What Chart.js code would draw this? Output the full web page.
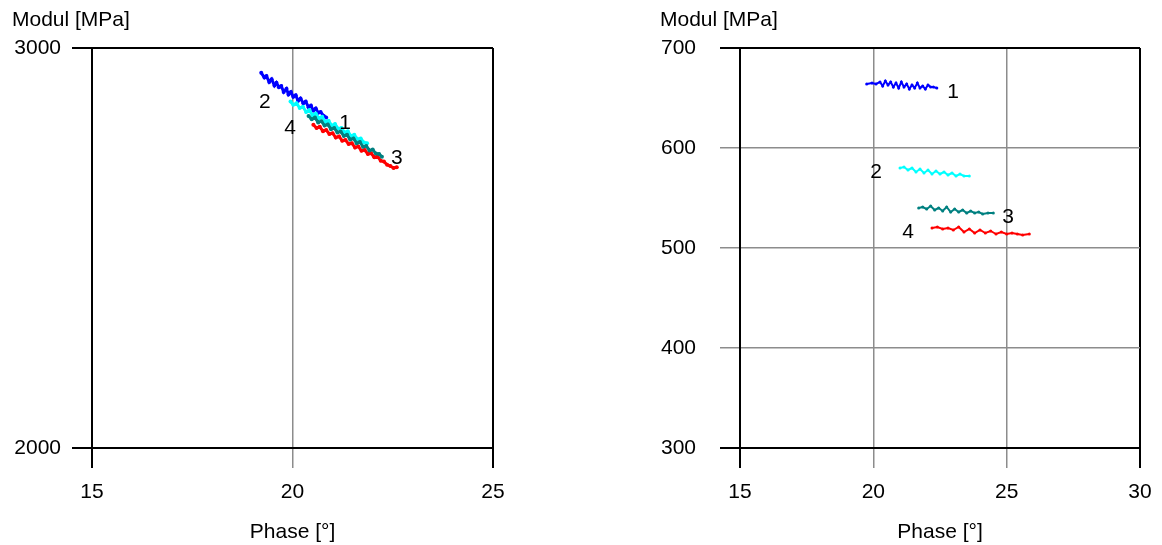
<!DOCTYPE html>
<html>
<head>
<meta charset="utf-8">
<script src="https://cdn.jsdelivr.net/npm/chart.js@4/dist/chart.umd.min.js"></script>
<style>
  body { margin: 0; background: #fff; }
  #wrap { position: relative; width: 1162px; height: 545px; }
  #left { position: absolute; left: 0; top: 0; }
  #right { position: absolute; left: 580px; top: 0; }
</style>
</head>
<body>
<div id="wrap">
  <canvas id="left" width="580" height="545"></canvas>
  <canvas id="right" width="582" height="545"></canvas>
</div>
<script>
// ---- left plot (Modul 2000-3000) ----
let phaseL1 = [19.22,19.30,19.35,19.42,19.48,19.55,19.60,19.66,19.72,19.78,19.85,19.90,19.96,20.02,20.08,20.14,20.20,20.27,20.33,20.40,20.46,20.52,20.58,20.64,20.70,20.78,20.84];
let modulL1 = [2938,2926,2930,2915,2922,2906,2913,2902,2905,2890,2898,2884,2890,2878,2882,2868,2874,2862,2866,2852,2856,2844,2849,2838,2840,2830,2826];
let phaseL2 = [19.95,20.02,20.10,20.18,20.26,20.34,20.42,20.50,20.58,20.66,20.74,20.82,20.90,20.98,21.06,21.14,21.22,21.30,21.38,21.46,21.54,21.62,21.70,21.78,21.86];
let modulL2 = [2866,2858,2862,2850,2853,2840,2845,2832,2836,2824,2828,2815,2818,2806,2810,2798,2800,2789,2792,2780,2783,2772,2774,2764,2762];
let phaseL3 = [20.40,20.48,20.56,20.64,20.72,20.80,20.88,20.96,21.04,21.12,21.20,21.28,21.36,21.44,21.52,21.60,21.68,21.76,21.84,21.92,22.00,22.08,22.16,22.23];
let modulL3 = [2830,2822,2826,2814,2817,2806,2809,2797,2800,2789,2791,2780,2783,2771,2774,2762,2765,2753,2755,2744,2746,2736,2735,2728];
let phaseL4 = [20.52,20.60,20.68,20.76,20.84,20.92,21.00,21.08,21.16,21.24,21.32,21.40,21.48,21.56,21.64,21.72,21.80,21.88,21.96,22.04,22.12,22.20,22.28,22.36,22.44,22.52,22.60];
let modulL4 = [2808,2800,2803,2792,2795,2785,2787,2776,2779,2768,2770,2760,2762,2751,2754,2743,2745,2735,2737,2727,2729,2718,2716,2708,2705,2700,2702];

// ---- right plot (Modul 300-700) ----
let phaseR1 = [19.75,19.95,20.10,20.25,20.35,20.45,20.55,20.65,20.75,20.85,20.95,21.05,21.15,21.25,21.35,21.45,21.55,21.65,21.75,21.85,21.95,22.05,22.15,22.25,22.38];
let modulR1 = [664,665,664,666,662,667,663,666,661,665,660,666,661,664,659,663,660,665,660,662,659,663,661,661,660];
let phaseR2 = [21.00,21.15,21.30,21.45,21.60,21.75,21.90,22.05,22.20,22.35,22.50,22.65,22.80,22.95,23.10,23.25,23.40,23.60];
let modulR2 = [580,581,578,580,576,579,575,578,574,577,574,576,573,575,572,574,572,572];
let phaseR3 = [21.70,21.85,22.00,22.15,22.30,22.45,22.60,22.75,22.90,23.05,23.20,23.35,23.50,23.65,23.80,23.95,24.10,24.30,24.50];
let modulR3 = [540,541,539,542,538,540,537,541,536,539,536,538,535,537,535,536,534,535,535];
let phaseR4 = [22.20,22.40,22.60,22.80,23.00,23.20,23.40,23.60,23.80,24.00,24.20,24.40,24.60,24.80,25.00,25.20,25.40,25.60,25.85];
let modulR4 = [520,521,519,520,518,521,516,519,515,518,515,517,514,516,514,515,514,513,514];

// curve numbers, placed in data units
let tagText = ["1","2","3","4"];
let tagPhaseL = [21.31,19.31,22.60,19.94];
let tagModulL = [2812,2865,2725,2800];
let tagPhaseR = [22.99,20.10,25.05,21.30];
let tagModulR = [656,576,531,516];

let colors = ["#0000ff","#00ffff","#008080","#ff0000"];
const FONT = { family: "'Liberation Sans', Arial, sans-serif", size: 21 };

function pts(xs, ys) { return xs.map((x, i) => ({ x: x, y: ys[i] })); }

function makeSets(list, lw, pr) {
  // blue, cyan, red, teal drawn in that order (lower order = on top)
  let order = [4, 3, 1, 2];
  return list.map((s, i) => ({
    data: pts(s[0], s[1]), showLine: true, borderColor: colors[i], backgroundColor: colors[i],
    borderWidth: lw, pointRadius: pr, pointBorderWidth: 0, order: order[i]
  }));
}

const tagPlugin = {
  id: "tags",
  afterDatasetsDraw(chart, args, opts) {
    let c = chart.ctx, xs = chart.scales.x, ys = chart.scales.y;
    c.save();
    c.fillStyle = "#000";
    c.font = FONT.size + "px " + FONT.family;
    c.textAlign = "center"; c.textBaseline = "middle";
    tagText.forEach((t, i) => c.fillText(t, xs.getPixelForValue(opts.px[i]), ys.getPixelForValue(opts.py[i])));
    c.textAlign = "left";
    c.fillText("Modul [MPa]", opts.titleX, 20);
    c.restore();
  }
};

function frameColor(min, max, gray) {
  return ctx => (ctx.tick && (ctx.tick.value === min || ctx.tick.value === max)) ? "#000" : gray;
}
function frameWidth(min, max) {
  return ctx => (ctx.tick && (ctx.tick.value === min || ctx.tick.value === max)) ? 2 : 1.5;
}

function makeChart(id, sets, xr, yr, yStep, yW, padRight, tickPad, tags, titleX, lw, pr) {
  return new Chart(document.getElementById(id), {
    type: "scatter",
    data: { datasets: makeSets(sets, lw, pr) },
    options: {
      responsive: false, animation: false,
      layout: { padding: { left: 0, top: 48, right: padRight, bottom: 0 } },
      plugins: { legend: { display: false }, tooltip: { enabled: false }, tags: { px: tags[0], py: tags[1], titleX: titleX } },
      scales: {
        x: {
          min: xr[0], max: xr[1],
          ticks: { stepSize: 5, color: "#000", font: FONT, padding: 12, maxRotation: 0, callback: v => String(v) },
          grid: { color: frameColor(xr[0], xr[1], "#8c8c8c"), tickColor: frameColor(xr[0], xr[1], "#8c8c8c"), lineWidth: frameWidth(xr[0], xr[1]), tickLength: 20 },
          border: { color: "#000", width: 2 },
          title: { display: true, text: "Phase [°]", color: "#000", font: FONT, padding: { top: 0, bottom: 0 } },
          afterFit: s => { s.height = 97; s.paddingLeft = 0; s.paddingRight = 0; }
        },
        y: {
          min: yr[0], max: yr[1],
          ticks: { stepSize: yStep, color: "#000", font: FONT, padding: tickPad, callback: v => String(v) },
          grid: { color: frameColor(yr[0], yr[1], "#8c8c8c"), tickColor: frameColor(yr[0], yr[1], "#8c8c8c"), lineWidth: frameWidth(yr[0], yr[1]), tickLength: 20 },
          border: { color: "#000", width: 2 },
          afterFit: s => { s.width = yW; }
        }
      }
    },
    plugins: [tagPlugin]
  });
}

makeChart("left",
  [[phaseL1, modulL1], [phaseL2, modulL2], [phaseL3, modulL3], [phaseL4, modulL4]],
  [15, 25], [2000, 3000], 1000, 92, 87, 11, [tagPhaseL, tagModulL], 12, 3, 2);

makeChart("right",
  [[phaseR1, modulR1], [phaseR2, modulR2], [phaseR3, modulR3], [phaseR4, modulR4]],
  [15, 30], [300, 700], 100, 160, 22, 24, [tagPhaseR, tagModulR], 80, 2, 1.5);
</script>
</body>
</html>
